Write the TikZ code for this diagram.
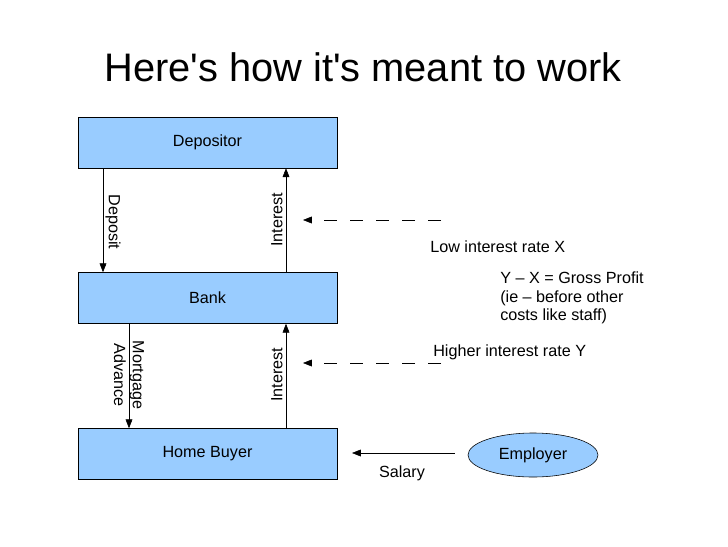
\documentclass[tikz,border=0pt]{standalone}
\usepackage{fontspec}
\setmainfont{Liberation Sans}
\usepackage{tikz}
\usetikzlibrary{arrows.meta,shapes.geometric,positioning}
\definecolor{acctfill}{RGB}{153,204,255}

\begin{document}
\begin{tikzpicture}[x=0.025cm,y=-0.025cm,
    acct/.style={draw=black,fill=acctfill,minimum width=6.475cm,minimum height=1.275cm,inner sep=0pt,font=\fontsize{11.5}{13.5}\selectfont},
    flow/.style={-{Triangle[length=0.22cm,width=0.17cm]}},
    rate/.style={flow,dash pattern=on 0.325cm off 0.325cm},
    lbl/.style={inner sep=0pt,font=\fontsize{11.5}{13.2}\selectfont}]
        \useasboundingbox (0,0) rectangle (728,546);
        % Title
        \node[inner sep=0pt,font=\fontsize{28.3}{32}\selectfont] (title) at (363,67) {Here\textquotesingle s how it\textquotesingle s meant to work};
        % Accounts
        \node[acct] (dep) at (207.5,142.5) {Depositor};
        \node[acct] (bank) at (207.5,298) {Bank};
        \node[acct] (buyer) at (207.5,454) {Home Buyer};
        \node[ellipse,draw=black,fill=acctfill,minimum width=3.25cm,minimum height=1.1cm,inner sep=0pt,font=\fontsize{11.5}{13.5}\selectfont] (emp) at (533,455) {Employer};
        % Money flows between the accounts
        \draw[flow] (dep.south -| 103,0) -- (bank.north -| 103,0);
        \draw[flow] (bank.north -| 286,0) -- (dep.south -| 286,0);
        \draw[flow] (bank.south -| 129,0) -- (buyer.north -| 129,0);
        \draw[flow] (buyer.north -| 286,0) -- (bank.south -| 286,0);
        \node[lbl,rotate=-90] (deplbl) at (113,222) {Deposit};
        \node[lbl,rotate=90] (intA) at (277,220) {Interest};
        \node[lbl,rotate=90] (intB) at (277,375) {Interest};
        \node[lbl,rotate=-90,align=center] (mortlbl) at (129,375) {Mortgage\\Advance};
        % Salary
        \coordinate (salend) at (352,453);
        \draw[flow] ([xshift=-0.325cm]emp.west |- 0,453) -- (salend);
        \node[lbl] (sallbl) at (402,473) {Salary};
        % Interest rates
        \coordinate (lowS) at (441,220);
        \coordinate (lowE) at (303,220);
        \coordinate (highS) at (441,363);
        \coordinate (highE) at (303,363);
        \draw[rate] (lowS) -- (lowE);
        \draw[rate] (highS) -- (highE);
        \node[lbl,anchor=west] (lowlbl) at (430,247) {Low interest rate X};
        \node[lbl,anchor=west] (highlbl) at (433,352) {Higher interest rate Y};
        \node[lbl,anchor=west,align=left] (profit) at (500,298) {Y -- X = Gross Profit\\(ie -- before other\\costs like staff)};
\end{tikzpicture}
\end{document}
